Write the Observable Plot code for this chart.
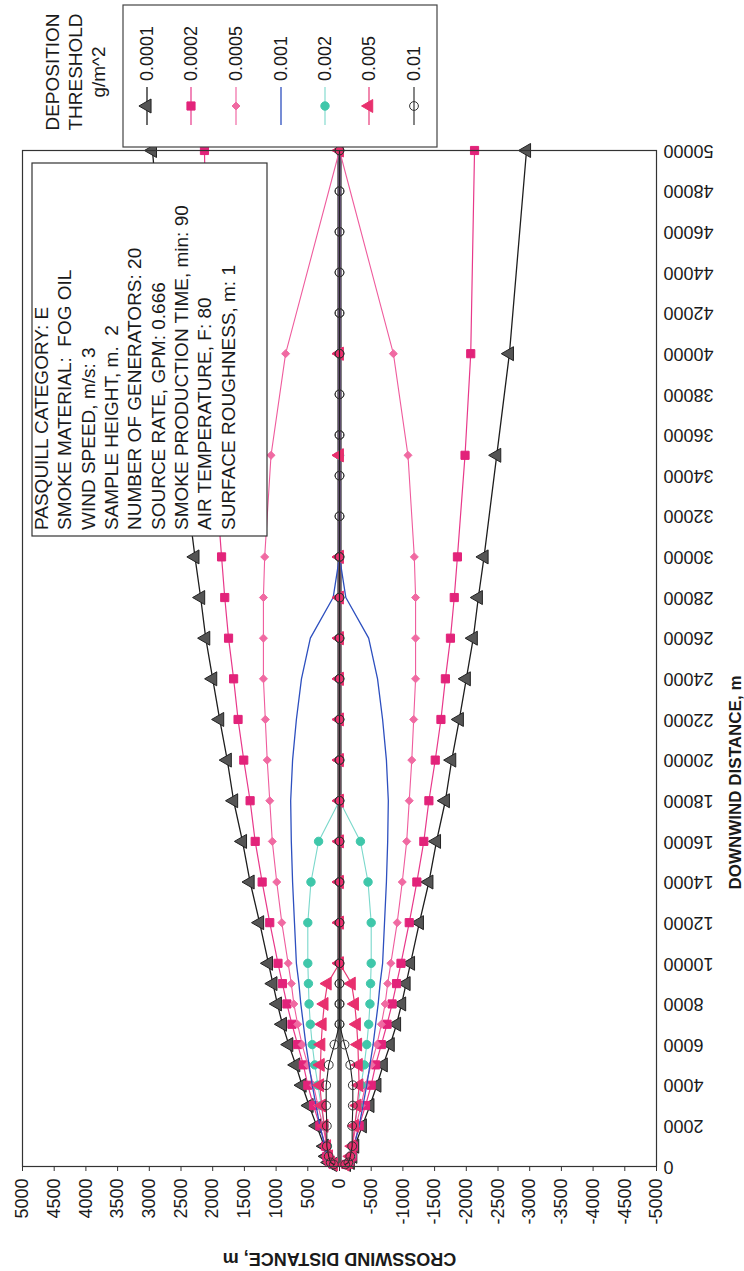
<!DOCTYPE html>
<html><head><meta charset="utf-8">
<script src="https://cdn.jsdelivr.net/npm/d3@7"></script>
<script src="https://cdn.jsdelivr.net/npm/@observablehq/plot@0.6"></script>
<style>html,body{margin:0;padding:0;background:#fff;} svg{display:block}</style>
</head><body><div id="chart"></div>
<script>
// ---- data ----
const thresholds = ["0.0001", "0.0002", "0.0005", "0.001", "0.002", "0.005", "0.01"];
const distA = [100, 200, 500, 1000, 2000, 3000, 4000, 5000, 6000, 7000, 8000, 9000, 10000, 12000, 14000, 16000, 18000, 20000, 22000, 24000, 26000, 28000, 30000, 35000, 40000, 50000];
const distB = [100, 200, 500, 1000, 2000, 3000, 4000, 5000, 6000, 7000, 8000, 9000, 10000, 12000, 14000, 16000, 18000, 20000, 22000, 24000, 26000, 28000, 30000, 32000, 34000, 36000, 38000, 40000, 42000, 44000, 46000, 48000, 50000];
// half-widths (crosswind, m) of each threshold contour
const w0001 = [110, 170, 210, 240, 360, 480, 590, 690, 800, 900, 980, 1050, 1120, 1260, 1410, 1530, 1670, 1770, 1890, 2000, 2110, 2190, 2280, 2480, 2680, 2950];
const w0002 = [100, 160, 200, 220, 310, 410, 500, 570, 660, 750, 830, 900, 970, 1100, 1220, 1330, 1410, 1510, 1600, 1670, 1750, 1810, 1860, 1980, 2070, 2130];
const w0005 = [100, 150, 190, 200, 260, 340, 410, 500, 590, 660, 720, 760, 810, 910, 990, 1060, 1100, 1140, 1170, 1200, 1200, 1200, 1180, 1080, 850, 0];
const w001 = [100, 150, 190, 230, 310, 370, 430, 480, 530, 570, 610, 640, 680, 710, 740, 760, 770, 740, 680, 600, 460, 100, 0, 0, 0, 0];
const w002 = [100, 150, 180, 190, 240, 290, 340, 390, 430, 460, 480, 490, 500, 500, 450, 330, 0, 0, 0, 0, 0, 0, 0, 0, 0, 0];
const w005 = [90, 140, 170, 200, 240, 280, 310, 300, 290, 270, 240, 190, 0, 0, 0, 0, 0, 0, 0, 0, 0, 0, 0, 0, 0, 0];
const w01 = [90, 140, 170, 200, 200, 210, 210, 170, 80, 0, 0, 0, 0, 0, 0, 0, 0, 0, 0, 0, 0, 0, 0, 0, 0, 0, 0, 0, 0, 0, 0, 0, 0];
const centerline = [0, 0, 0, 0, 0, 0, 0, 0, 0, 0, 0, 0, 0, 0, 0, 0, 0, 0, 0, 0, 0, 0, 0, 0, 0, 0, 0, 0, 0, 0, 0, 0, 0];

const crossTicks = [5000, 4500, 4000, 3500, 3000, 2500, 2000, 1500, 1000, 500, 0, -500, -1000, -1500, -2000, -2500, -3000, -3500, -4000, -4500, -5000];
const downTicks = [0, 2000, 4000, 6000, 8000, 10000, 12000, 14000, 16000, 18000, 20000, 22000, 24000, 26000, 28000, 30000, 32000, 34000, 36000, 38000, 40000, 42000, 44000, 46000, 48000, 50000];
const xTitle = "CROSSWIND DISTANCE, m";
const yTitle = "DOWNWIND DISTANCE, m";
const legendTitle = ["DEPOSITION", "THRESHOLD", "g/m^2"];
const infoLines = ["PASQUILL CATEGORY: E", "SMOKE MATERIAL:  FOG OIL", "WIND SPEED, m/s: 3", "SAMPLE HEIGHT, m.  2", "NUMBER OF GENERATORS: 20", "SOURCE RATE, GPM: 0.666", "SMOKE PRODUCTION TIME, min: 90", "AIR TEMPERATURE, F: 80", "SURFACE ROUGHNESS, m: 1"];

// ---- styles ----
const seriesDefs = [
  {name: "0.0001", dist: distA, w: w0001},
  {name: "0.0002", dist: distA, w: w0002},
  {name: "0.0005", dist: distA, w: w0005},
  {name: "0.001", dist: distA, w: w001},
  {name: "0.002", dist: distA, w: w002},
  {name: "0.005", dist: distA, w: w005},
  {name: "0.01", dist: distB, w: w01}
];
const styles = {
  "0.0001": {line: "#1e1e1e", lw: 1.3, symbol: "triangle", fill: "#555", mstroke: "#222", r: 5.2, rotate: -90},
  "0.0002": {line: "#e8388a", lw: 1.2, symbol: "square", fill: "#e2237a", mstroke: "#e2237a", r: 4.6, rotate: 0},
  "0.0005": {line: "#ef5c9d", lw: 1.1, symbol: "diamond2", fill: "#f06aa2", mstroke: "#f06aa2", r: 3.6, rotate: 0},
  "0.001": {line: "#2d4fbf", lw: 1.3, symbol: null},
  "0.002": {line: "#7ad8cb", lw: 1.1, symbol: "circle", fill: "#3fc7aa", mstroke: "#3fc7aa", r: 4.2, rotate: 0},
  "0.005": {line: "#e83a78", lw: 1.2, symbol: "triangle", fill: "#e8306e", mstroke: "#e8306e", r: 4.8, rotate: -90},
  "0.01": {line: "#222", lw: 1.1, symbol: "circle", fill: "none", mstroke: "#333", r: 4.4, rotate: 0}
};

const rows = [];
for (const s of seriesDefs) {
  s.dist.forEach((d, i) => {
    rows.push({series: s.name, d, c: s.w[i], side: "up"});
    rows.push({series: s.name, d, c: -s.w[i], side: "down"});
  });
}
const centerRows = distB.map((d, i) => ({d, c: centerline[i]}));

const marks = [
  Plot.line(centerRows, {x: "c", y: "d", stroke: "#555", strokeWidth: 4.5})
];
for (const s of seriesDefs) {
  const st = styles[s.name];
  const data = rows.filter(r => r.series === s.name);
  marks.push(Plot.line(data, {x: "c", y: "d", z: "side", stroke: st.line, strokeWidth: st.lw}));
  if (st.symbol) {
    marks.push(Plot.dot(data, {x: "c", y: "d", symbol: () => st.symbol, r: st.r, fill: st.fill, stroke: st.mstroke, strokeWidth: 1, rotate: st.rotate}));
  }
}
marks.push(Plot.frame({stroke: "#333", strokeWidth: 1.2}));
marks.push(Plot.axisX({ticks: crossTicks, anchor: "bottom", tickSize: 5, tickRotate: -90, tickPadding: 7, fontSize: 18, tickFormat: d => String(d), label: null, stroke: "#333"}));
marks.push(Plot.axisY({ticks: downTicks, anchor: "right", tickSize: 0, tickRotate: 180, textAnchor: "end", lineAnchor: "middle", tickPadding: 7, fontSize: 18, tickFormat: d => String(d), label: null}));
marks.push(Plot.text([xTitle], {text: d => d, frameAnchor: "bottom", rotate: 180, dy: 86, fontSize: 18, fontWeight: "bold"}));
marks.push(Plot.text([yTitle], {text: d => d, frameAnchor: "right", rotate: -90, dx: 79, dy: 17, fontSize: 17, fontWeight: "bold"}));

const plot = Plot.plot({
  width: 744, height: 1271,
  marginLeft: 22, marginRight: 88, marginTop: 150, marginBottom: 105,
  x: {domain: [5000, -5000]},
  y: {domain: [0, 50000]},
  symbol: {type: "identity"},
  style: {fontFamily: "'Liberation Sans', Arial, sans-serif", background: "white", color: "#1a1a1a"},
  marks
});
document.getElementById("chart").appendChild(plot);

// ---- info box and legend (decorations) ----
const svg = d3.select(plot);
const font = "'Liberation Sans', Arial, sans-serif";
const info = svg.append("g").attr("text-anchor", "start");
info.append("rect").attr("x", 32).attr("y", 163).attr("width", 235).attr("height", 373)
  .attr("fill", "white").attr("stroke", "#333").attr("stroke-width", 1.2);
infoLines.forEach((t, i) => {
  const x = 41.5 + i * 23.3, y = 530;
  info.append("text").attr("transform", `translate(${x},${y}) rotate(-90)`)
    .attr("text-anchor", "start").attr("dy", "0.35em").attr("font-size", 19).attr("font-family", font).attr("fill", "#1a1a1a").text(t);
});

const leg = svg.append("g");
leg.append("rect").attr("x", 123).attr("y", 5).attr("width", 314).attr("height", 142)
  .attr("fill", "white").attr("stroke", "#444").attr("stroke-width", 1.2);
legendTitle.forEach((t, i) => {
  const x = 52 + i * 23, y = 72;
  leg.append("text").attr("transform", `translate(${x},${y}) rotate(-90)`)
    .attr("text-anchor", "middle").attr("dy", "0.35em").attr("font-size", 19).attr("font-family", font).attr("fill", "#1a1a1a").text(t);
});
const legX = [147, 191, 236, 281, 325, 369, 414];
const symMap = {triangle: d3.symbolTriangle, square: d3.symbolSquare, diamond2: d3.symbolDiamond2, circle: d3.symbolCircle};
thresholds.forEach((name, i) => {
  const st = styles[name];
  const x = legX[i];
  leg.append("text").attr("transform", `translate(${x},81) rotate(-90)`)
    .attr("text-anchor", "start").attr("dy", "0.35em").attr("font-size", 18).attr("font-family", font).attr("fill", "#1a1a1a").text(name);
  leg.append("line").attr("x1", x).attr("x2", x).attr("y1", 87).attr("y2", 125)
    .attr("stroke", st.line).attr("stroke-width", st.lw);
  if (st.symbol) {
    leg.append("path").attr("d", d3.symbol(symMap[st.symbol], Math.PI * st.r * st.r)())
      .attr("transform", `translate(${x},106) rotate(${st.rotate || 0})`)
      .attr("fill", st.fill).attr("stroke", st.mstroke).attr("stroke-width", 1);
  }
});
</script>
</body></html>
